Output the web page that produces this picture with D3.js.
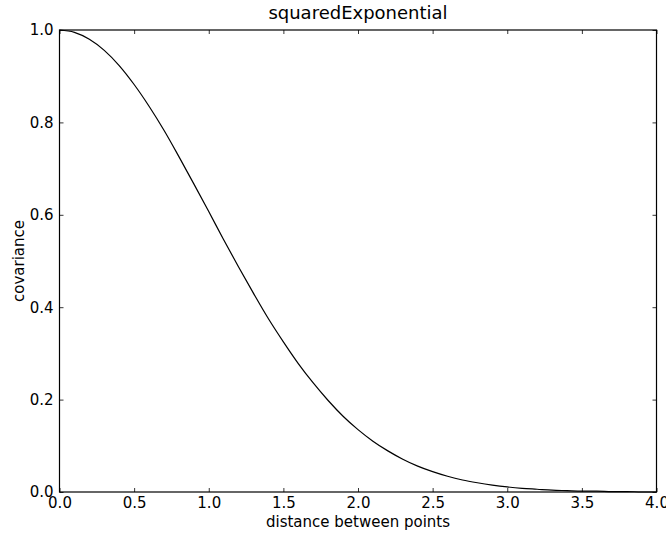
<!DOCTYPE html>
<html>
<head>
<meta charset="utf-8">
<script src="https://cdn.jsdelivr.net/npm/d3@7"></script>
<style>
  html, body { margin: 0; padding: 0; background: #fff; }
  svg { display: block; font-family: "DejaVu Sans", sans-serif; }
</style>
</head>
<body>
<svg id="chart" width="666" height="533"></svg>
<script>
// Covariance of the squared-exponential kernel against point separation
const distances = [0.0, 0.1, 0.2, 0.3, 0.4, 0.5, 0.6, 0.7, 0.8, 0.9,
                   1.0, 1.1, 1.2, 1.3, 1.4, 1.5, 1.6, 1.7, 1.8, 1.9,
                   2.0, 2.1, 2.2, 2.3, 2.4, 2.5, 2.6, 2.7, 2.8, 2.9,
                   3.0, 3.1, 3.2, 3.3, 3.4, 3.5, 3.6, 3.7, 3.8, 3.9, 4.0];
const covariance = [1.000, 0.995, 0.980, 0.956, 0.923, 0.882, 0.835, 0.783, 0.726, 0.667,
                    0.607, 0.546, 0.487, 0.430, 0.375, 0.325, 0.278, 0.236, 0.198, 0.164,
                    0.135, 0.110, 0.089, 0.071, 0.056, 0.044, 0.034, 0.026, 0.020, 0.015,
                    0.011, 0.008, 0.006, 0.004, 0.003, 0.002, 0.002, 0.001, 0.001, 0.000, 0.000];
const xTicks = [0.0, 0.5, 1.0, 1.5, 2.0, 2.5, 3.0, 3.5, 4.0];
const yTicks = [0.0, 0.2, 0.4, 0.6, 0.8, 1.0];
const titleText = "squaredExponential";
const xLabelText = "distance between points";
const yLabelText = "covariance";

const svg = d3.select("#chart");
const plotLeft = 59.5, plotRight = 656.5, plotTop = 30, plotBottom = 492;

const x = d3.scaleLinear().domain([0, 4]).range([plotLeft, plotRight]);
const y = d3.scaleLinear().domain([0, 1]).range([plotBottom, plotTop]);

const fmt = d3.format(".1f");
const tickLen = 4;

// Inward ticks on all four sides
function styleAxis(g) {
  g.select(".domain").remove();
  g.selectAll(".tick line").attr("stroke", "#000").attr("stroke-width", 0.8);
  g.selectAll(".tick text").attr("fill", "#000").attr("font-size", 15)
    .attr("font-family", "DejaVu Sans, sans-serif");
}

svg.append("g").attr("transform", `translate(0,${plotBottom})`)
  .call(d3.axisBottom(x).tickValues(xTicks).tickFormat(fmt).tickSizeInner(-tickLen).tickSizeOuter(0).tickPadding(5))
  .call(styleAxis);
svg.append("g").attr("transform", `translate(0,${plotTop})`)
  .call(d3.axisTop(x).tickValues(xTicks).tickFormat("").tickSizeInner(-tickLen).tickSizeOuter(0))
  .call(styleAxis);
svg.append("g").attr("transform", `translate(${plotLeft},0)`)
  .call(d3.axisLeft(y).tickValues(yTicks).tickFormat(fmt).tickSizeInner(-tickLen).tickSizeOuter(0).tickPadding(6))
  .call(styleAxis);
svg.append("g").attr("transform", `translate(${plotRight},0)`)
  .call(d3.axisRight(y).tickValues(yTicks).tickFormat("").tickSizeInner(-tickLen).tickSizeOuter(0))
  .call(styleAxis);

// The curve
const pts = distances.map((d, i) => [d, covariance[i]]);
svg.append("path")
  .datum(pts)
  .attr("fill", "none")
  .attr("stroke", "#000")
  .attr("stroke-width", 1.2)
  .attr("d", d3.line().x(d => x(d[0])).y(d => y(d[1])).curve(d3.curveMonotoneX));

// Frame
svg.append("rect")
  .attr("x", plotLeft).attr("y", plotTop)
  .attr("width", plotRight - plotLeft).attr("height", plotBottom - plotTop)
  .attr("fill", "none").attr("stroke", "#000").attr("stroke-width", 1.2);

// Title and axis labels
svg.append("text")
  .attr("x", (plotLeft + plotRight) / 2).attr("y", 19)
  .attr("text-anchor", "middle").attr("font-size", 18)
  .text(titleText);
svg.append("text")
  .attr("x", (plotLeft + plotRight) / 2).attr("y", 527)
  .attr("text-anchor", "middle").attr("font-size", 15)
  .text(xLabelText);
svg.append("text")
  .attr("transform", `translate(24,${(plotTop + plotBottom) / 2}) rotate(-90)`)
  .attr("text-anchor", "middle").attr("font-size", 15)
  .text(yLabelText);
</script>
</body>
</html>
